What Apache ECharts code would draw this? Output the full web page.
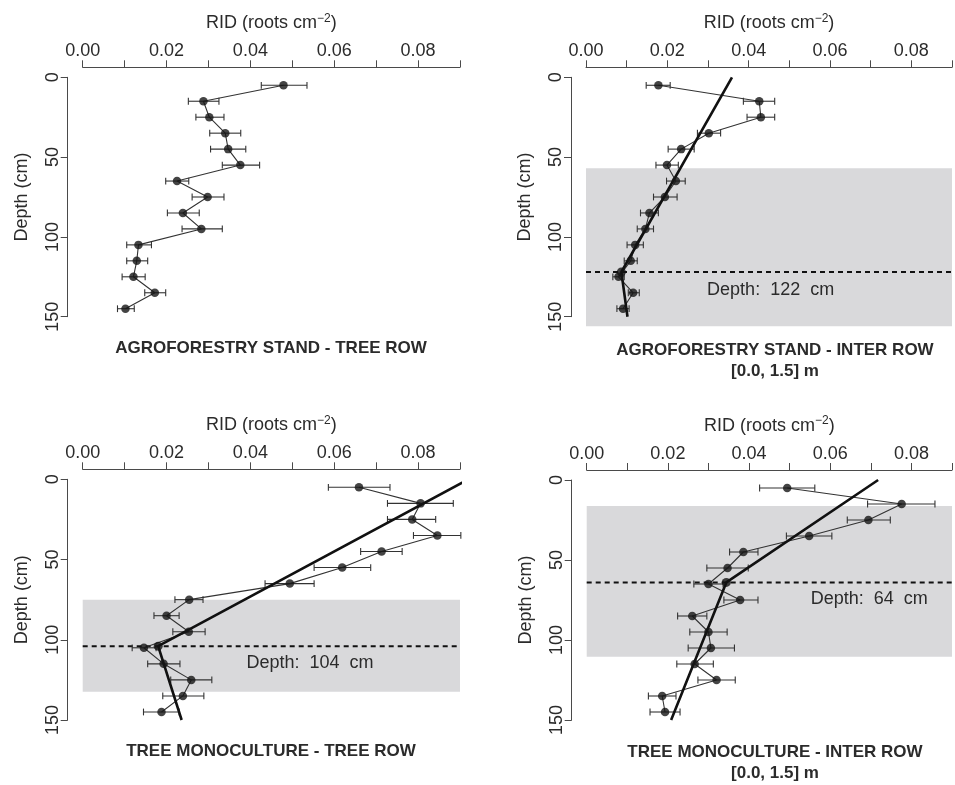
<!DOCTYPE html>
<html>
<head>
<meta charset="utf-8">
<script src="https://cdn.jsdelivr.net/npm/echarts@6/dist/echarts.min.js"></script>
<style>
html,body{margin:0;padding:0;background:#fff;}
#chart{width:955px;height:785px;}
</style>
</head>
<body>
<div id="chart"></div>
<script>
// ---------- data ----------
const depths = [5,15,25,35,45,55,65,75,85,95,105,115,125,135,145];
const xTickLabels = ['0.00','0.02','0.04','0.06','0.08'];
const yTicks = [0,50,100,150];

const panelTitles = ['AGROFORESTRY STAND - TREE ROW','AGROFORESTRY STAND - INTER ROW','TREE MONOCULTURE - TREE ROW','TREE MONOCULTURE - INTER ROW'];
const panelSubtitles = ['','[0.0, 1.5] m','','[0.0, 1.5] m'];

const p1Mean = [0.0479,0.0288,0.0302,0.0340,0.0347,0.0376,0.0225,0.0298,0.0239,0.0283,0.0133,0.0129,0.0121,0.0172,0.0102];
const p1Lo   = [0.0426,0.0252,0.0270,0.0303,0.0305,0.0333,0.0198,0.0261,0.0202,0.0237,0.0105,0.0105,0.0094,0.0148,0.0083];
const p1Hi   = [0.0535,0.0325,0.0337,0.0377,0.0389,0.0422,0.0253,0.0337,0.0278,0.0333,0.0164,0.0155,0.0149,0.0198,0.0123];

const p2Mean = [0.0178,0.0426,0.0430,0.0302,0.0234,0.0199,0.0221,0.0194,0.0156,0.0146,0.0121,0.0110,0.0080,0.0116,0.0091];
const p2Lo   = [0.0148,0.0387,0.0396,0.0274,0.0202,0.0172,0.0198,0.0166,0.0134,0.0126,0.0101,0.0094,0.0066,0.0104,0.0076];
const p2Hi   = [0.0207,0.0464,0.0464,0.0331,0.0266,0.0227,0.0244,0.0224,0.0178,0.0166,0.0141,0.0126,0.0094,0.0131,0.0106];

const p3Mean = [0.0659,0.0806,0.0786,0.0846,0.0713,0.0619,0.0494,0.0254,0.0200,0.0253,0.0146,0.0193,0.0259,0.0239,0.0188];
const p3Lo   = [0.0586,0.0727,0.0727,0.0789,0.0663,0.0552,0.0435,0.0220,0.0170,0.0215,0.0118,0.0155,0.0210,0.0191,0.0145];
const p3Hi   = [0.0733,0.0884,0.0842,0.0902,0.0762,0.0687,0.0552,0.0287,0.0230,0.0292,0.0175,0.0232,0.0308,0.0289,0.0230];

const p4Mean = [0.0494,0.0776,0.0694,0.0548,0.0386,0.0347,0.0300,0.0378,0.0260,0.0300,0.0306,0.0266,0.0320,0.0186,0.0193];
const p4Lo   = [0.0426,0.0692,0.0642,0.0492,0.0352,0.0296,0.0264,0.0338,0.0224,0.0254,0.0250,0.0222,0.0274,0.0152,0.0156];
const p4Hi   = [0.0562,0.0858,0.0748,0.0604,0.0422,0.0398,0.0336,0.0422,0.0296,0.0346,0.0364,0.0312,0.0366,0.0220,0.0230];

// segmented regression: [RID, depth] nodes (top, breakpoint, bottom)
const fit2 = [[0.0359,0],[0.0087,122],[0.0102,150]];
const fit3 = [[0.0920,0],[0.0180,104],[0.0236,150]];
const fit4 = [[0.0718,0],[0.0344,64],[0.0208,150]];

const breakDepths = [null,122,104,64];
const ciRanges = [null,[57,156],[75,132.4],[16.3,110.4]];
const breakLabels = [null,'Depth:  122  cm','Depth:  104  cm','Depth:  64  cm'];
const breakLabelPos = [null,[0.0454,133],[0.0542,114.7],[0.0696,74.4]];

// ---------- layout ----------
const FONT = "'Liberation Sans', Arial, Helvetica, sans-serif";
const grids = [
  {left:82.7, top:77.3, width:377.3, height:239.4},
  {left:586,  top:77.3, width:375,   height:239.4},
  {left:82.7, top:479.3,width:377.3, height:240.7},
  {left:586.7,top:480,  width:375,   height:240}
];
const titlePos = [
  {cx:271, top:340},
  {cx:775, top:342},
  {cx:271, top:743},
  {cx:775, top:744}
];
const means=[p1Mean,p2Mean,p3Mean,p4Mean], los=[p1Lo,p2Lo,p3Lo,p4Lo], his=[p1Hi,p2Hi,p3Hi,p4Hi];
const fits=[null,fit2,fit3,fit4];
const AX='#4a4a4a', TXT='#2b2b2b';

const option = {
  animation:false,
  backgroundColor:'#fff',
  textStyle:{fontFamily:FONT},
  title: panelTitles.map((t,i)=>({
    text:t, subtext:panelSubtitles[i], left:titlePos[i].cx, top:titlePos[i].top,
    textAlign:'center', padding:0, itemGap:4,
    textStyle:{fontFamily:FONT,fontSize:17,fontWeight:'bold',color:TXT},
    subtextStyle:{fontFamily:FONT,fontSize:17,fontWeight:'bold',color:TXT}
  })),
  grid: grids.map(g=>Object.assign({containLabel:false},g)),
  xAxis: grids.map((g,i)=>({
    type:'value', gridIndex:i, position:'top', min:0, max:0.09, interval:0.01, offset:10,
    axisLine:{show:true,onZero:false,lineStyle:{color:AX,width:1}},
    axisTick:{show:true,length:7,lineStyle:{color:AX,width:1}},
    splitLine:{show:false},
    axisLabel:{fontSize:18,color:TXT,fontFamily:FONT,margin:7,
      formatter:v=>{const k=Math.round(v*100); return k%2===0 ? xTickLabels[k/2] : '';}},
    name:'{a|RID (roots cm}{s|−2}{a|)}', nameLocation:'middle', nameGap:35,
    nameTextStyle:{rich:{
      a:{fontSize:18,color:TXT,fontFamily:FONT,lineHeight:20,padding:[8,0,0,0],verticalAlign:'bottom'},
      s:{fontSize:12,color:TXT,fontFamily:FONT,lineHeight:13,verticalAlign:'top'}
    }}
  })),
  yAxis: grids.map((g,i)=>({
    type:'value', gridIndex:i, inverse:true, min:0, max:150, interval:50, offset:15,
    axisLine:{show:true,onZero:false,lineStyle:{color:AX,width:1}},
    axisTick:{show:true,length:7,lineStyle:{color:AX,width:1}},
    splitLine:{show:false},
    axisLabel:{fontSize:18,color:TXT,fontFamily:FONT,rotate:90,margin:6,
      formatter:v=>yTicks.indexOf(v)>=0?String(v):''},
    name:'Depth (cm)', nameLocation:'middle', nameRotate:90, nameGap:37,
    nameTextStyle:{fontSize:18,color:TXT,fontFamily:FONT}
  })),
  series: []
};

for (let i=0;i<4;i++){
  if (ciRanges[i]) {
    option.series.push({
      type:'custom', xAxisIndex:i, yAxisIndex:i, z:0, silent:true, clip:false,
      data:[[0,ciRanges[i][0],0.09,ciRanges[i][1]]],
      renderItem:(params,api)=>{
        const a=api.coord([api.value(0),api.value(1)]), b=api.coord([api.value(2),api.value(3)]);
        return {type:'rect',shape:{x:a[0],y:a[1],width:b[0]-a[0],height:b[1]-a[1]},style:{fill:'#d9d9db'}};
      }
    });
    option.series.push({
      type:'line', xAxisIndex:i, yAxisIndex:i, z:1, silent:true, symbol:'none',
      data:[[0,breakDepths[i]],[0.09,breakDepths[i]]],
      lineStyle:{color:'#111',width:2,type:[5,4]}
    });
    option.series.push({
      type:'custom', xAxisIndex:i, yAxisIndex:i, z:2, silent:true, clip:false,
      data:[[breakLabelPos[i][0],breakLabelPos[i][1]]],
      renderItem:(params,api)=>{
        const p=api.coord([api.value(0),api.value(1)]);
        return {type:'text',x:p[0],y:p[1],style:{text:breakLabels[i],fontSize:18,fontFamily:FONT,fill:TXT,align:'center',verticalAlign:'middle'}};
      }
    });
  }
  option.series.push({
    type:'line', xAxisIndex:i, yAxisIndex:i, z:3, silent:true, symbol:'none',
    data:means[i].map((m,k)=>[m,depths[k]]),
    lineStyle:{color:'#333',width:1.1}
  });
  option.series.push({
    type:'custom', xAxisIndex:i, yAxisIndex:i, z:4, silent:true, clip:false,
    data:los[i].map((lo,k)=>[lo,his[i][k],depths[k]]),
    renderItem:(params,api)=>{
      const a=api.coord([api.value(0),api.value(2)]), b=api.coord([api.value(1),api.value(2)]);
      const h=3.4, st={stroke:'#333',lineWidth:1.1};
      return {type:'group',children:[
        {type:'line',shape:{x1:a[0],y1:a[1],x2:b[0],y2:b[1]},style:st},
        {type:'line',shape:{x1:a[0],y1:a[1]-h,x2:a[0],y2:a[1]+h},style:st},
        {type:'line',shape:{x1:b[0],y1:b[1]-h,x2:b[0],y2:b[1]+h},style:st}
      ]};
    }
  });
  if (fits[i]) {
    option.series.push({
      type:'line', xAxisIndex:i, yAxisIndex:i, z:5, silent:true, symbol:'none', clip:false,
      data:fits[i], lineStyle:{color:'#111',width:2.6}
    });
    option.series.push({
      type:'scatter', xAxisIndex:i, yAxisIndex:i, z:6, silent:true, symbolSize:9,
      data:[fits[i][1]], itemStyle:{color:'#111'}
    });
  }
  option.series.push({
    type:'scatter', xAxisIndex:i, yAxisIndex:i, z:7, silent:true, symbolSize:8.5,
    data:means[i].map((m,k)=>[m,depths[k]]), itemStyle:{color:'#151515'}
  });
}

const chart = echarts.init(document.getElementById('chart'),null,{renderer:'canvas'});
chart.setOption(option);
</script>
</body>
</html>
